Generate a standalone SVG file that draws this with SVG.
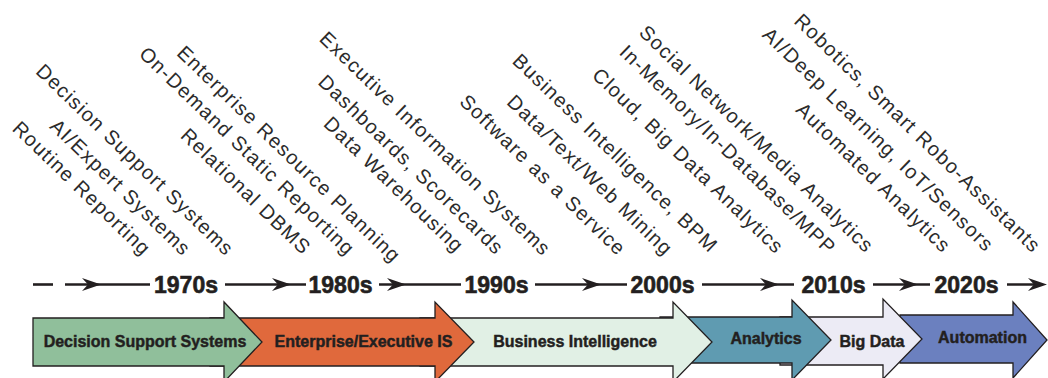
<svg xmlns="http://www.w3.org/2000/svg" width="1048" height="378" viewBox="0 0 1048 378">
<style>
.lbl{font-family:"Liberation Sans",Arial,sans-serif;font-size:20px;letter-spacing:1.3px;fill:#2b2b2b;text-anchor:end}
.yr{font-family:"Liberation Sans",Arial,sans-serif;font-weight:bold;font-size:23px;fill:#231f20;stroke:#231f20;stroke-width:0.6;text-anchor:middle}
.band{font-family:"Liberation Sans",Arial,sans-serif;font-weight:bold;font-size:16px;fill:#231f20;stroke:#231f20;stroke-width:0.45;text-anchor:middle}
.tl{stroke:#231f20;stroke-width:2.6;fill:none}
.ar{stroke:#231f20;stroke-width:1.3;stroke-linejoin:miter}
</style>
<defs>
<path id="ah" d="M0,0 L-19,-6.5 L-13,0 L-19,6.5 Z" fill="#231f20"/>
</defs>
<rect width="1048" height="378" fill="#ffffff"/>

<g id="timeline">
<line class="tl" x1="33" y1="284.5" x2="53" y2="284.5"/>
<line class="tl" x1="65" y1="284.5" x2="150" y2="284.5"/>
<use href="#ah" x="101" y="284.5"/>
<line class="tl" x1="225" y1="284.5" x2="306" y2="284.5"/>
<use href="#ah" x="291" y="284.5"/>
<line class="tl" x1="379" y1="284.5" x2="461" y2="284.5"/>
<use href="#ah" x="406" y="284.5"/>
<line class="tl" x1="535" y1="284.5" x2="627" y2="284.5"/>
<use href="#ah" x="601" y="284.5"/>
<line class="tl" x1="702" y1="284.5" x2="794" y2="284.5"/>
<use href="#ah" x="779" y="284.5"/>
<line class="tl" x1="873" y1="284.5" x2="930" y2="284.5"/>
<use href="#ah" x="918" y="284.5"/>
<line class="tl" x1="1007" y1="284.5" x2="1040" y2="284.5"/>
<use href="#ah" x="1047" y="284.5"/>
<text class="yr" x="186" y="293">1970s</text>
<text class="yr" x="340.5" y="293">1980s</text>
<text class="yr" x="496.5" y="293">1990s</text>
<text class="yr" x="662.5" y="293">2000s</text>
<text class="yr" x="833.5" y="293">2010s</text>
<text class="yr" x="966.5" y="293">2020s</text>
</g>

<g id="era-automation">
<polygon class="ar" fill="#6b80bf" points="900,315 1013,315 1013,302 1047,340 1013,378 1013,363 900,363"/>
<text class="band" x="982.5" y="343">Automation</text>
</g>
<g id="era-bigdata">
<polygon class="ar" fill="#ecebf5" points="780,317 883,317 883,299 922,339 883,379 883,365 780,365"/>
<text class="band" x="872" y="347">Big Data</text>
</g>
<g id="era-analytics">
<polygon class="ar" fill="#5f9bb1" points="660,317 792,317 792,300 831,340 792,380 792,363 660,363"/>
<text class="band" x="766" y="344">Analytics</text>
</g>
<g id="era-bi">
<polygon class="ar" fill="#e1f0e5" points="420,318 673,318 673,302 712,342 673,382 673,366 420,366"/>
<text class="band" x="575" y="347">Business Intelligence</text>
</g>
<g id="era-enterprise">
<polygon class="ar" fill="#e0693c" points="210,318 435,318 435,302 474,342 435,382 435,366 210,366"/>
<text class="band" x="363.5" y="347">Enterprise/Executive IS</text>
</g>
<g id="era-dss">
<polygon class="ar" fill="#90bf9b" points="33,318 224,318 224,302 262,342 224,382 224,366 33,366"/>
<text class="band" x="145" y="347">Decision Support Systems</text>
</g>

<g id="t-routine"><text class="lbl" transform="translate(143,257) rotate(44)">Routine Reporting</text></g>
<g id="t-aiexpert"><text class="lbl" transform="translate(183,257) rotate(44)">AI/Expert Systems</text></g>
<g id="t-dss"><text class="lbl" transform="translate(226,257) rotate(44)">Decision Support Systems</text></g>
<g id="t-rdbms"><text class="lbl" transform="translate(303,256) rotate(44)">Relational DBMS</text></g>
<g id="t-ondemand"><text class="lbl" transform="translate(347,257) rotate(44)">On-Demand Static Reporting</text></g>
<g id="t-erp"><text class="lbl" transform="translate(393,264) rotate(44)">Enterprise Resource Planning</text></g>
<g id="t-dw"><text class="lbl" transform="translate(456,254) rotate(44)">Data Warehousing</text></g>
<g id="t-dash"><text class="lbl" transform="translate(496,256) rotate(44)">Dashboards, Scorecards</text></g>
<g id="t-eis"><text class="lbl" transform="translate(543,257) rotate(44)">Executive Information Systems</text></g>
<g id="t-saas"><text class="lbl" transform="translate(618,257) rotate(44)">Software as a Service</text></g>
<g id="t-mining"><text class="lbl" transform="translate(665,257) rotate(44)">Data/Text/Web Mining</text></g>
<g id="t-bibpm"><text class="lbl" transform="translate(710,254) rotate(44)">Business Intelligence, BPM</text></g>
<g id="t-cloud"><text class="lbl" transform="translate(776,255) rotate(44)">Cloud, Big Data Analytics</text></g>
<g id="t-inmem"><text class="lbl" transform="translate(828,256) rotate(44)">In-Memory/In-Database/MPP</text></g>
<g id="t-social"><text class="lbl" transform="translate(866,254) rotate(44)">Social Network/Media Analytics</text></g>
<g id="t-auto"><text class="lbl" transform="translate(943,254) rotate(44)">Automated Analytics</text></g>
<g id="t-aideep"><text class="lbl" transform="translate(986,253) rotate(44)">AI/Deep Learning, IoT/Sensors</text></g>
<g id="t-robotics"><text class="lbl" transform="translate(1033,254) rotate(44)">Robotics, Smart Robo-Assistants</text></g>
</svg>
